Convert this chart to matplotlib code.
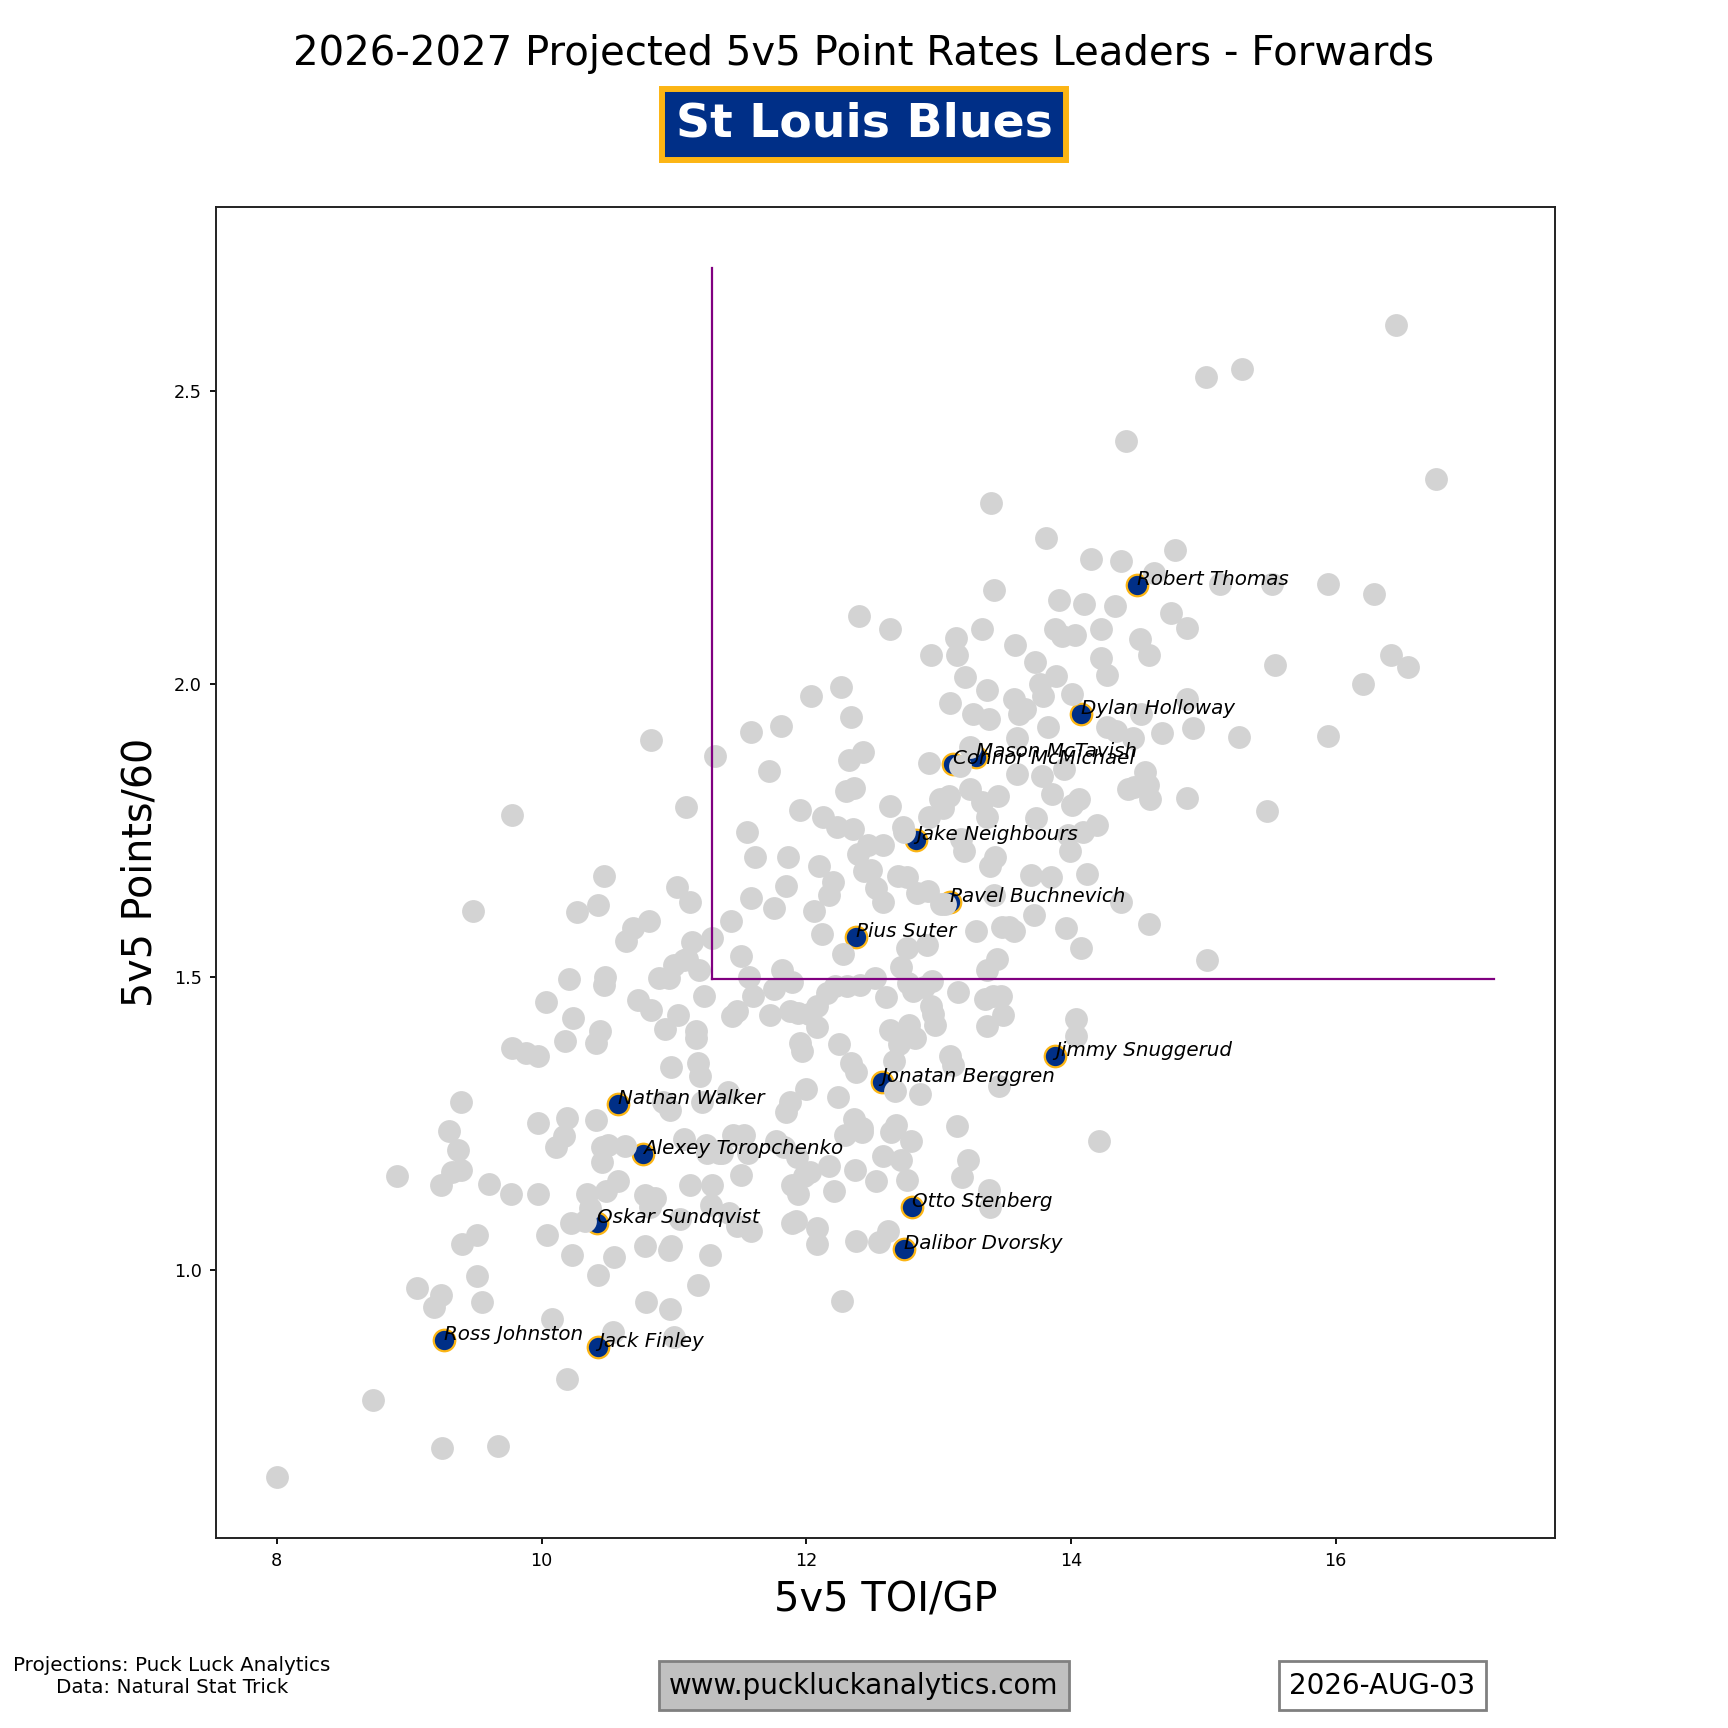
import matplotlib
matplotlib.use("Agg")
import matplotlib.pyplot as plt

# League forwards (gray): 5v5 TOI/GP and 5v5 Points/60
league_toi = [
    8.00, 8.73, 8.91, 9.06, 9.19, 9.24, 9.25, 9.24, 9.30, 9.32, 9.37, 9.39, 9.39, 9.40,
    9.48, 9.51, 9.51, 9.55, 9.60, 9.67, 9.77, 9.78, 9.78, 9.88, 9.97, 9.97, 9.97, 10.03,
    10.04, 10.08, 10.11, 10.17, 10.18, 10.19, 10.19, 10.21, 10.22, 10.23, 10.24, 10.27,
    10.33, 10.34, 10.37, 10.41, 10.41, 10.43, 10.43, 10.44, 10.46, 10.46, 10.47, 10.47,
    10.48, 10.49, 10.50, 10.54, 10.55, 10.58, 10.63, 10.64, 10.69, 10.73, 10.78, 10.78,
    10.79, 10.81, 10.82, 10.83, 10.83, 10.86, 10.89, 10.92, 10.93, 10.96, 10.97, 10.97,
    10.96, 10.98, 10.98, 11.00, 11.00, 11.02, 11.03, 11.05, 11.08, 11.08, 11.09, 11.10,
    11.12, 11.12, 11.14, 11.17, 11.17, 11.18, 11.18, 11.19, 11.20, 11.21, 11.23, 11.24,
    11.25, 11.27, 11.28, 11.29, 11.29, 11.31, 11.34, 11.36, 11.41, 11.42, 11.43, 11.44,
    11.45, 11.48, 11.48, 11.51, 11.51, 11.53, 11.55, 11.56, 11.57, 11.58, 11.58, 11.58,
    11.60, 11.61, 11.72, 11.73, 11.76, 11.76, 11.77, 11.81, 11.82, 11.83, 11.85, 11.86,
    11.85, 11.88, 11.88, 11.89, 11.89, 11.89, 11.92, 11.93, 11.94, 11.94, 11.95, 11.95,
    11.97, 11.98, 12.00, 12.02, 12.03, 12.04, 12.06, 12.08, 12.08, 12.08, 12.08, 12.10,
    12.12, 12.13, 12.16, 12.17, 12.17, 12.20, 12.21, 12.22, 12.23, 12.24, 12.25, 12.26,
    12.27, 12.28, 12.29, 12.30, 12.31, 12.32, 12.34, 12.34, 12.35, 12.36, 12.36, 12.37,
    12.38, 12.38, 12.39, 12.40, 12.41, 12.42, 12.42, 12.43, 12.44, 12.47, 12.49, 12.52,
    12.53, 12.53, 12.55, 12.58, 12.58, 12.58, 12.60, 12.62, 12.63, 12.63, 12.63, 12.64,
    12.66, 12.67, 12.68, 12.69, 12.70, 12.72, 12.72, 12.73, 12.74, 12.76, 12.76, 12.76,
    12.76, 12.77, 12.78, 12.79, 12.81, 12.82, 12.84, 12.86, 12.89, 12.91, 12.92, 12.93,
    12.93, 12.94, 12.94, 12.95, 12.96, 12.97, 13.01, 13.02, 13.03, 13.05, 13.08, 13.09,
    13.09, 13.11, 13.13, 13.14, 13.14, 13.15, 13.16, 13.17, 13.18, 13.19, 13.20, 13.22,
    13.24, 13.24, 13.26, 13.28, 13.33, 13.33, 13.35, 13.37, 13.37, 13.37, 13.37, 13.38,
    13.38, 13.39, 13.39, 13.40, 13.41, 13.42, 13.42, 13.43, 13.44, 13.45, 13.46, 13.47,
    13.48, 13.49, 13.53, 13.57, 13.57, 13.58, 13.59, 13.59, 13.61, 13.65, 13.70, 13.72,
    13.73, 13.74, 13.77, 13.78, 13.79, 13.81, 13.83, 13.85, 13.86, 13.88, 13.89, 13.91,
    13.93, 13.95, 13.96, 13.98, 13.99, 14.01, 14.01, 14.03, 14.04, 14.04, 14.06, 14.08,
    14.09, 14.10, 14.12, 14.15, 14.20, 14.21, 14.23, 14.23, 14.27, 14.27, 14.33, 14.34,
    14.38, 14.38, 14.42, 14.43, 14.47, 14.48, 14.52, 14.53, 14.56, 14.58, 14.59, 14.59,
    14.60, 14.63, 14.69, 14.76, 14.79, 14.88, 14.88, 14.88, 14.92, 15.02, 15.03, 15.13,
    15.27, 15.29, 15.48, 15.52, 15.54, 15.94, 15.94, 16.21, 16.29, 16.42, 16.46, 16.55,
    16.76,
]
league_pts = [
    0.646, 0.778, 1.160, 0.970, 0.936, 0.958, 0.697, 1.145, 1.237, 1.167, 1.205, 1.286, 1.170, 1.045,
    1.613, 1.060, 0.990, 0.945, 1.147, 0.700, 1.130, 1.777, 1.378, 1.370, 1.365, 1.130, 1.250, 1.457,
    1.060, 0.917, 1.210, 1.228, 1.390, 1.260, 0.814, 1.497, 1.080, 1.026, 1.430, 1.610,
    1.083, 1.130, 1.105, 1.256, 1.388, 1.623, 0.992, 1.408, 1.210, 1.184, 1.487, 1.673,
    1.500, 1.134, 1.213, 0.895, 1.023, 1.152, 1.211, 1.562, 1.583, 1.460, 1.128, 1.041,
    0.945, 1.595, 1.107, 1.905, 1.444, 1.122, 1.499, 1.286, 1.412, 1.034, 0.934, 1.273,
    1.499, 1.346, 1.041, 0.885, 1.521, 1.653, 1.435, 1.087, 1.224, 1.529, 1.790, 1.531,
    1.145, 1.628, 1.559, 1.395, 1.408, 0.974, 1.354, 1.512, 1.331, 1.286, 1.468, 1.214,
    1.200, 1.026, 1.111, 1.145, 1.566, 1.877, 1.200, 1.200, 1.303, 1.098, 1.596, 1.433,
    1.230, 1.075, 1.442, 1.162, 1.536, 1.230, 1.747, 1.200, 1.500, 1.066, 1.918, 1.634,
    1.468, 1.704, 1.852, 1.435, 1.617, 1.480, 1.220, 1.928, 1.512, 1.209, 1.655, 1.705,
    1.269, 1.442, 1.286, 1.491, 1.080, 1.145, 1.083, 1.192, 1.130, 1.438, 1.388, 1.785,
    1.374, 1.160, 1.308, 1.436, 1.167, 1.980, 1.613, 1.450, 1.071, 1.045, 1.414, 1.689,
    1.574, 1.773, 1.472, 1.177, 1.640, 1.662, 1.135, 1.485, 1.756, 1.295, 1.386, 1.995,
    0.947, 1.540, 1.230, 1.817, 1.485, 1.871, 1.944, 1.354, 1.752, 1.258, 1.823, 1.171,
    1.049, 1.337, 1.710, 2.116, 1.487, 1.243, 1.235, 1.884, 1.680, 1.725, 1.683, 1.499,
    1.651, 1.151, 1.047, 1.628, 1.194, 1.725, 1.465, 1.066, 2.093, 1.792, 1.410, 1.235,
    1.356, 1.305, 1.248, 1.672, 1.386, 1.517, 1.188, 1.756, 1.747, 1.550, 1.670, 1.403,
    1.154, 1.489, 1.418, 1.220, 1.476, 1.395, 1.643, 1.300, 1.483, 1.555, 1.647, 1.865,
    1.773, 2.050, 1.450, 1.493, 1.436, 1.418, 1.803, 1.625, 1.788, 1.625, 1.809, 1.967,
    1.365, 1.350, 2.078, 2.050, 1.246, 1.474, 1.860, 1.736, 1.158, 1.715, 2.012, 1.188,
    1.821, 1.892, 1.948, 1.578, 2.093, 1.798, 1.463, 1.512, 1.416, 1.990, 1.773, 1.940,
    1.137, 1.107, 1.690, 2.308, 1.467, 2.161, 1.640, 1.704, 1.531, 1.809, 1.314, 1.468,
    1.585, 1.435, 1.585, 1.975, 1.578, 2.067, 1.847, 1.907, 1.948, 1.958, 1.674, 1.606,
    2.037, 1.771, 2.000, 1.843, 1.980, 2.249, 1.926, 1.670, 1.813, 2.093, 2.014, 2.144,
    2.082, 1.854, 1.583, 1.743, 1.715, 1.982, 1.794, 2.084, 1.429, 1.400, 1.803, 1.550,
    1.747, 2.136, 1.675, 2.213, 1.760, 1.220, 2.093, 2.044, 1.926, 2.016, 2.133, 1.920,
    2.210, 1.628, 2.415, 1.821, 1.907, 1.824, 2.076, 1.948, 1.850, 1.828, 2.050, 1.590,
    1.803, 2.190, 1.916, 2.121, 2.229, 1.975, 1.805, 2.095, 1.924, 2.524, 1.529, 2.170,
    1.909, 2.537, 1.783, 2.170, 2.033, 2.170, 1.912, 2.000, 2.153, 2.050, 2.613, 2.029,
    2.349,
]

# Team forwards (highlighted)
team_names = [
    "Robert Thomas", "Dylan Holloway", "Mason McTavish", "Connor McMichael",
    "Jake Neighbours", "Pavel Buchnevich", "Pius Suter", "Jimmy Snuggerud",
    "Jonatan Berggren", "Nathan Walker", "Alexey Toropchenko", "Otto Stenberg",
    "Oskar Sundqvist", "Dalibor Dvorsky", "Ross Johnston", "Jack Finley",
]
team_toi = [14.50, 14.08, 13.28, 13.11, 12.83, 13.09, 12.38, 13.88,
            12.57, 10.58, 10.77, 12.80, 10.42, 12.74, 9.26, 10.43]
team_pts = [2.168, 1.948, 1.875, 1.864, 1.734, 1.628, 1.568, 1.365,
            1.320, 1.284, 1.198, 1.107, 1.081, 1.036, 0.881, 0.868]

# Threshold lines
thresh_toi = 11.29
thresh_pts = 1.496
line_top = 2.71
line_right = 17.2

title = "2026-2027 Projected 5v5 Point Rates Leaders - Forwards"
team_label = "St Louis Blues"
source_text = "Projections: Puck Luck Analytics\nData: Natural Stat Trick"
site_text = "www.puckluckanalytics.com"
date_text = "2026-AUG-03"

NAVY = "#002F87"
GOLD = "#FCB514"

fig = plt.figure(figsize=(17.28, 17.28), dpi=100)
ax = fig.add_axes([0.125, 0.11, 0.775, 0.77])

ax.scatter(team_toi, team_pts, s=240, color=NAVY, edgecolors=GOLD, linewidths=1.6, zorder=2)
ax.scatter(league_toi, league_pts, s=270, color="#d3d3d3", linewidths=0, zorder=2)

ax.plot([thresh_toi, thresh_toi], [thresh_pts, line_top], color="purple", lw=1.6, zorder=3)
ax.plot([thresh_toi, line_right], [thresh_pts, thresh_pts], color="purple", lw=1.6, zorder=3)

for n, x, y in zip(team_names, team_toi, team_pts):
    ax.text(x, y, n, fontsize=14.3, style="italic", zorder=4)

ax.set_xlabel("5v5 TOI/GP", fontsize=28.8, labelpad=8)
ax.set_ylabel("5v5 Points/60", fontsize=28.5, labelpad=10)
ax.tick_params(labelsize=12.7, width=1.3, length=4.5, pad=5.5)
for sp in ax.spines.values():
    sp.set_linewidth(1.4)
    sp.set_color("#222222")

fig.text(0.5, 0.969, title, ha="center", va="center", fontsize=29)
fig.text(0.5, 0.928, team_label, ha="center", va="center", fontsize=34, fontweight="bold",
         color="white",
         bbox=dict(boxstyle="square,pad=0.28", facecolor=NAVY, edgecolor=GOLD, linewidth=4.3))

fig.text(0.0995, 0.030, source_text, ha="center", va="center", fontsize=14.3, multialignment="center")
fig.text(0.5, 0.0245, site_text, ha="center", va="center", fontsize=20,
         bbox=dict(boxstyle="square,pad=0.38", facecolor="#c0c0c0", edgecolor="#808080", linewidth=2))
fig.text(0.80, 0.0245, date_text, ha="center", va="center", fontsize=20,
         bbox=dict(boxstyle="square,pad=0.38", facecolor="white", edgecolor="#808080", linewidth=2))

fig.savefig("out.png", dpi=100)
